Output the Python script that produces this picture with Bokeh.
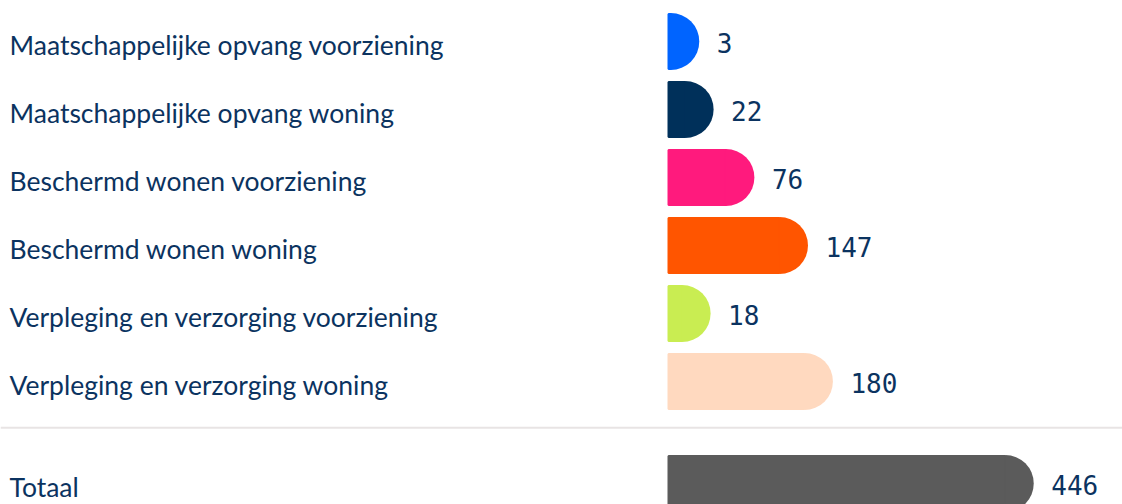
import numpy as np
from bokeh.plotting import figure
from bokeh.models import Range1d, ColumnDataSource, Span
from bokeh.core.properties import value
from bokeh.embed import file_html
from bokeh.resources import INLINE

categories = [
    "Maatschappelijke opvang voorziening",
    "Maatschappelijke opvang woning",
    "Beschermd wonen voorziening",
    "Beschermd wonen woning",
    "Verpleging en verzorging voorziening",
    "Verpleging en verzorging woning",
]
values = [3, 22, 76, 147, 18, 180]
colors = ["#0064ff", "#00305a", "#ff1a7d", "#ff5500", "#c9ed52", "#ffd9bf"]
total_label = "Totaal"
total_value = 446
total_color = "#5b5b5b"

TEXT = "#0b3360"
W, H = 1122, 504
PX_PER_UNIT = 0.755
ZERO_PX = 668
ROW = 68
TOP = 41

ys = list(range(len(categories))) + [6.5]
labels = categories + [total_label]
vals = values + [total_value]
cols = colors + [total_color]

src = ColumnDataSource(dict(y=ys, v=vals, c=cols, lab=labels,
                            txt=[str(v) for v in vals], z=[0] * len(vals)))

p = figure(width=W, height=H, output_backend="svg", toolbar_location=None,
           x_range=Range1d(-ZERO_PX / PX_PER_UNIT, (W - ZERO_PX) / PX_PER_UNIT),
           y_range=Range1d((H - TOP) / ROW, -TOP / ROW),
           min_border=0, outline_line_color=None)
p.axis.visible = False
p.grid.visible = False
p.background_fill_color = "white"
p.border_fill_color = "white"

p.hbar(y="y", left="z", right="v", height=55 / ROW, fill_color="c",
       line_color="c", line_width=2, source=src)
p.wedge(x="v", y="y", radius=28.5, radius_units="screen",
        start_angle=-np.pi / 2, end_angle=np.pi / 2,
        fill_color="c", line_color=None, source=src)

p.text(x=-ZERO_PX / PX_PER_UNIT, y="y", text="lab", x_offset=9, y_offset=3,
       text_font=value("Lato"), text_font_size="26.5px", text_color=TEXT,
       text_baseline="middle", text_align="left", source=src)
p.text(x="v", y="y", text="txt", x_offset=46, y_offset=1,
       text_font=value("DejaVu Sans Mono"), text_font_size="26px", text_color=TEXT,
       text_baseline="middle", text_align="left", source=src)

p.add_layout(Span(location=5.68, dimension="width", line_color="#e8e4e4",
                  line_width=2))

open("out.html", "w").write(file_html(p, INLINE))
